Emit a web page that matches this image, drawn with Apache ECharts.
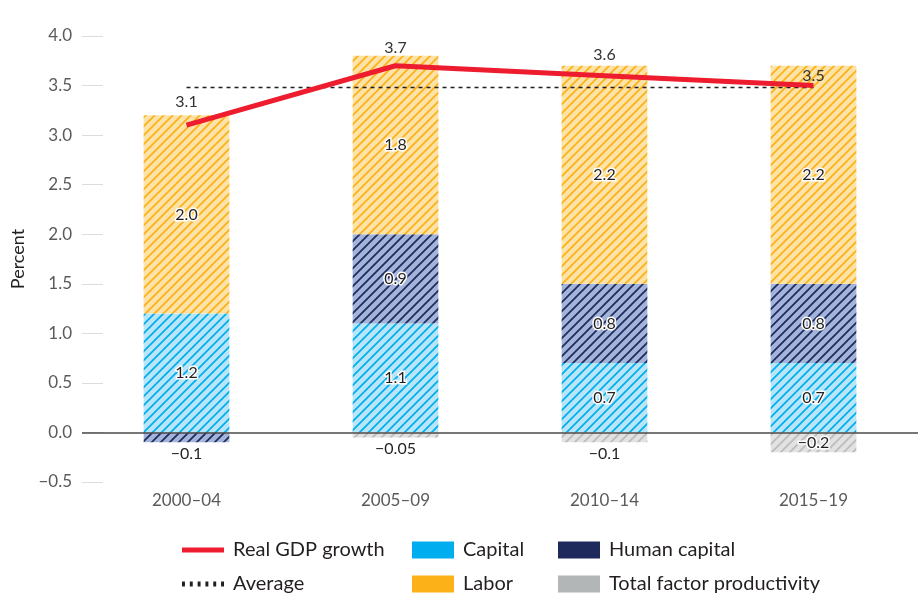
<!DOCTYPE html>
<html>
<head>
<meta charset="utf-8">
<script src="https://cdn.jsdelivr.net/npm/echarts@6/dist/echarts.min.js"></script>
<style>
  html, body { margin: 0; padding: 0; background: #fff; }
  #chart { width: 920px; height: 595px; }
</style>
</head>
<body>
<div id="chart"></div>
<script>
// periods on the x axis
var periods = ['2000–04', '2005–09', '2010–14', '2015–19'];
// contributions, percentage points
var capital = [1.2, 1.1, 0.7, 0.7];
var humanCapital = [-0.1, 0.9, 0.8, 0.8];
var labor = [2.0, 1.8, 2.2, 2.2];
var tfp = [0, -0.05, -0.1, -0.2];
// real GDP growth and its average
var gdpGrowth = [3.1, 3.7, 3.6, 3.5];
var average = [3.48, 3.48, 3.48, 3.48];

var FONT = 'Lato';
var RED = '#ed1c2e';

// hatched fill, light background with diagonal stripes
function hatch(bg, fg) {
    var s = 9;
    var c = document.createElement('canvas');
    c.width = c.height = s;
    var g = c.getContext('2d');
    g.fillStyle = bg;
    g.fillRect(0, 0, s, s);
    g.strokeStyle = fg;
    g.lineWidth = 1.7;
    g.beginPath();
    g.moveTo(-1, s + 1); g.lineTo(s + 1, -1);
    g.moveTo(-1, 1); g.lineTo(1, -1);
    g.moveTo(s - 1, s + 1); g.lineTo(s + 1, s - 1);
    g.stroke();
    return {image: c, repeat: 'repeat'};
}

function fmt(v) {
    var digits = Math.abs(Math.round(v * 100)) % 10 === 0 ? 1 : 2;
    return v.toFixed(digits).replace('-', '\u2212');
}

// small negative pieces get their label under the bar
function barData(values) {
    return values.map(function (v) {
        var small = v < 0 && Math.abs(v) < 0.15;
        return {value: v, label: {position: small ? 'outside' : 'inside', distance: 3}};
    });
}

var barLabel = {
    show: true,
    fontFamily: FONT,
    fontSize: 16,
    color: '#231f20',
    textBorderColor: '#fff',
    textBorderWidth: 3,
    formatter: function (p) { return p.value === 0 ? '' : fmt(p.value); }
};

function barSeries(name, values, bg, fg, extra) {
    var s = {
        name: name,
        type: 'bar',
        stack: 'total',
        barWidth: '41%',
        data: barData(values),
        itemStyle: {color: hatch(bg, fg)},
        label: barLabel
    };
    return Object.assign(s, extra || {});
}

var gdpLabelDist = [15, 10, 13, 2];

function legendBlock(left, items) {
    return {
        orient: 'vertical', left: left, top: 540, padding: 0,
        itemWidth: 42, itemHeight: 17, itemGap: 14,
        textStyle: {fontSize: 20, color: '#231f20', fontFamily: FONT, lineHeight: 20, padding: [0, 0, 0, 4]},
        data: items
    };
}

var chart = echarts.init(document.getElementById('chart'));
chart.setOption({
    animation: false,
    textStyle: {fontFamily: FONT},
    grid: {left: 82, right: 2, top: 36, bottom: 113},
    xAxis: {
        type: 'category',
        data: periods,
        axisLine: {show: false},
        axisTick: {show: false},
        axisLabel: {color: '#5a5a5a', fontSize: 17, margin: 10, fontFamily: FONT}
    },
    yAxis: {
        type: 'value',
        min: -0.5,
        max: 4,
        interval: 0.5,
        name: 'Percent',
        nameLocation: 'middle',
        nameGap: 54,
        nameTextStyle: {color: '#231f20', fontSize: 18, fontFamily: FONT},
        axisLine: {show: false},
        axisTick: {show: true, inside: true, length: 21, lineStyle: {color: '#dcdcdc'}},
        splitLine: {show: false},
        axisLabel: {
            color: '#5a5a5a', fontSize: 17, margin: 10, fontFamily: FONT,
            formatter: function (v) { return v.toFixed(1).replace('-', '\u2212'); }
        }
    },
    legend: [
        legendBlock(182, [
            {name: 'Real GDP growth', icon: 'path://M0,0h42v5h-42z', itemStyle: {color: RED}},
            {name: 'Average', icon: 'path://M0,0h3v5h-3zM8,0h3v5h-3zM16,0h3v5h-3zM24,0h3v5h-3zM32,0h3v5h-3zM40,0h3v5h-3z', itemStyle: {color: '#231f20'}}
        ]),
        legendBlock(412, [
            {name: 'Capital', icon: 'rect', itemStyle: {color: '#00aeef'}},
            {name: 'Labor', icon: 'rect', itemStyle: {color: '#fbb117'}}
        ]),
        legendBlock(558, [
            {name: 'Human capital', icon: 'rect', itemStyle: {color: '#1f2a5c'}},
            {name: 'Total factor productivity', icon: 'rect', itemStyle: {color: '#b3b6b6'}}
        ])
    ],
    series: [
        barSeries('Capital', capital, '#b8e5f8', '#00aeef', {
            markLine: {
                silent: true,
                symbol: 'none',
                label: {show: false},
                lineStyle: {color: '#4a4a4a', width: 1.5, type: 'solid'},
                data: [{yAxis: 0}],
                z: 5
            }
        }),
        barSeries('Human capital', humanCapital, '#a3b4da', '#1f2a5c'),
        barSeries('Labor', labor, '#fde3a8', '#fbb117'),
        barSeries('Total factor productivity', tfp, '#e2e2e2', '#bcbcbc'),
        {
            name: 'Average',
            type: 'line',
            data: average,
            symbol: 'none',
            silent: true,
            z: 4,
            lineStyle: {color: '#231f20', width: 1.5, type: [4, 4]}
        },
        {
            name: 'Real GDP growth',
            type: 'line',
            z: 6,
            data: gdpGrowth.map(function (v, i) {
                return {value: v, label: {distance: gdpLabelDist[i]}};
            }),
            symbol: 'circle',
            symbolSize: 0,
            showSymbol: true,
            color: RED,
            lineStyle: {color: RED, width: 5},
            label: {
                show: true,
                position: 'top',
                fontFamily: FONT,
                fontSize: 16,
                color: '#333',
                formatter: function (p) { return p.value.toFixed(1); }
            }
        }
    ]
});
</script>
</body>
</html>
